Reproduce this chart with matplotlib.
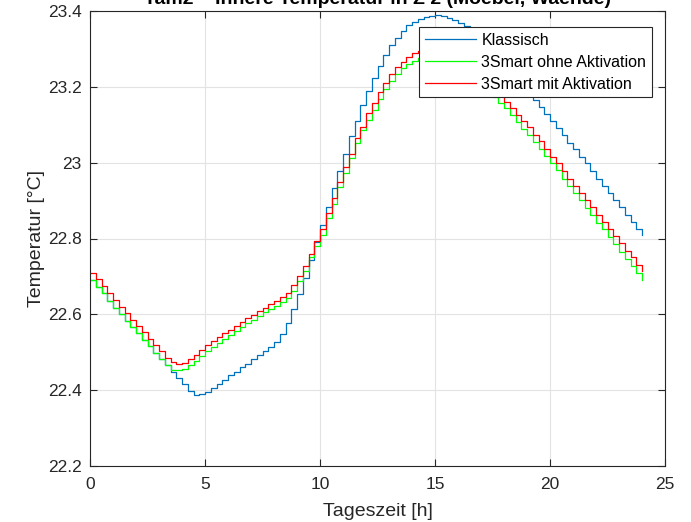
import numpy as np
import matplotlib
matplotlib.use("Agg")
import matplotlib.pyplot as plt
from matplotlib.ticker import FuncFormatter

plt.rcParams['font.family'] = ['Liberation Sans', 'DejaVu Sans']

# time axis: 15 min steps over one day
t = np.arange(97) * 0.25

klassisch = [
    22.690, 22.672, 22.655, 22.635, 22.617, 22.600, 22.582, 22.567, 22.551, 22.532,
    22.516, 22.498, 22.482, 22.466, 22.448, 22.433, 22.416, 22.398, 22.387, 22.389,
    22.395, 22.407, 22.417, 22.428, 22.439, 22.449, 22.460, 22.470, 22.482, 22.492,
    22.503, 22.514, 22.527, 22.547, 22.576, 22.615, 22.653, 22.696, 22.744, 22.790,
    22.835, 22.884, 22.932, 22.979, 23.024, 23.071, 23.111, 23.152, 23.190, 23.224,
    23.255, 23.285, 23.310, 23.330, 23.347, 23.362, 23.372, 23.380, 23.385, 23.388,
    23.389, 23.386, 23.382, 23.376, 23.369, 23.361, 23.351, 23.339, 23.325, 23.310,
    23.294, 23.277, 23.260, 23.242, 23.224, 23.205, 23.186, 23.166, 23.147, 23.128,
    23.110, 23.092, 23.073, 23.053, 23.035, 23.015, 22.998, 22.978, 22.958, 22.938,
    22.920, 22.901, 22.882, 22.863, 22.844, 22.825, 22.809,
]

ohne_akt = [
    22.690, 22.672, 22.655, 22.635, 22.617, 22.600, 22.582, 22.567, 22.551, 22.532,
    22.516, 22.498, 22.482, 22.466, 22.453, 22.453, 22.457, 22.466, 22.476, 22.489,
    22.503, 22.514, 22.525, 22.535, 22.546, 22.556, 22.566, 22.576, 22.586, 22.595,
    22.605, 22.614, 22.623, 22.632, 22.643, 22.662, 22.688, 22.714, 22.750, 22.781,
    22.810, 22.855, 22.892, 22.936, 22.972, 23.011, 23.051, 23.086, 23.112, 23.139,
    23.169, 23.193, 23.216, 23.234, 23.249, 23.260, 23.269, 23.276, 23.281, 23.284,
    23.285, 23.283, 23.279, 23.272, 23.262, 23.250, 23.237, 23.222, 23.206, 23.190,
    23.174, 23.158, 23.143, 23.125, 23.106, 23.090, 23.073, 23.055, 23.037, 23.018,
    22.999, 22.980, 22.958, 22.939, 22.919, 22.901, 22.881, 22.861, 22.842, 22.824,
    22.804, 22.785, 22.765, 22.745, 22.727, 22.708, 22.690,
]

mit_akt = [
    22.710, 22.692, 22.674, 22.655, 22.637, 22.620, 22.604, 22.586, 22.569, 22.554,
    22.535, 22.518, 22.503, 22.486, 22.474, 22.468, 22.472, 22.482, 22.492, 22.505,
    22.518, 22.529, 22.540, 22.550, 22.560, 22.570, 22.580, 22.590, 22.599, 22.608,
    22.618, 22.627, 22.636, 22.645, 22.656, 22.677, 22.701, 22.727, 22.758, 22.793,
    22.826, 22.867, 22.908, 22.949, 22.989, 23.024, 23.064, 23.094, 23.130, 23.158,
    23.187, 23.211, 23.235, 23.251, 23.266, 23.279, 23.288, 23.295, 23.300, 23.303,
    23.304, 23.303, 23.300, 23.294, 23.285, 23.274, 23.261, 23.247, 23.232, 23.216,
    23.200, 23.183, 23.160, 23.143, 23.125, 23.109, 23.093, 23.073, 23.057, 23.037,
    23.015, 22.998, 22.978, 22.958, 22.938, 22.920, 22.901, 22.882, 22.863, 22.844,
    22.824, 22.806, 22.787, 22.767, 22.750, 22.731, 22.715,
]

labels = ['Klassisch', '3Smart ohne Aktivation', '3Smart mit Aktivation']
colors = ['#0072BD', '#00FF00', '#FF0000']

fig = plt.figure(figsize=(6.91, 5.22), dpi=100)
ax = fig.add_axes([90 / 691, 56 / 522, 575 / 691, 455 / 522])

for y, lab, c in zip([klassisch, ohne_akt, mit_akt], labels, colors):
    ax.step(t, y, where='post', color=c, lw=0.9, label=lab)

ax.set_xlim(0, 25)
ax.set_ylim(22.2, 23.4)
ax.set_xticks([0, 5, 10, 15, 20, 25])
ax.set_yticks([22.2, 22.4, 22.6, 22.8, 23.0, 23.2, 23.4])
ax.yaxis.set_major_formatter(FuncFormatter(lambda v, p: '%g' % round(v, 2)))

ax.grid(True, color='#e3e3e3', lw=0.8)
ax.set_axisbelow(True)
ax.tick_params(direction='in', top=True, right=True, length=5, width=0.8,
               labelsize=12.5, colors='#262626')
ax.tick_params(axis='x', pad=8)
ax.tick_params(axis='y', pad=6)
for s in ax.spines.values():
    s.set_color('#262626')
    s.set_linewidth(0.8)

ax.set_xlabel('Tageszeit [h]', fontsize=14, color='#262626', labelpad=8)
ax.set_ylabel('Temperatur [°C]', fontsize=14, color='#262626', labelpad=2)
ax.set_title('Tam2 – Innere Temperatur in Z 2 (Moebel, Waende)', fontsize=14,
             fontweight='bold', color='black', pad=5)

leg = ax.legend(loc='upper right', bbox_to_anchor=(0.977, 0.965), fontsize=11.5,
                fancybox=False, framealpha=1, edgecolor='#262626',
                borderaxespad=0, handlelength=3.2, handletextpad=0.35,
                borderpad=0.35, labelspacing=0.45)
leg.get_frame().set_linewidth(0.8)

fig.savefig('out.png', dpi=100)
